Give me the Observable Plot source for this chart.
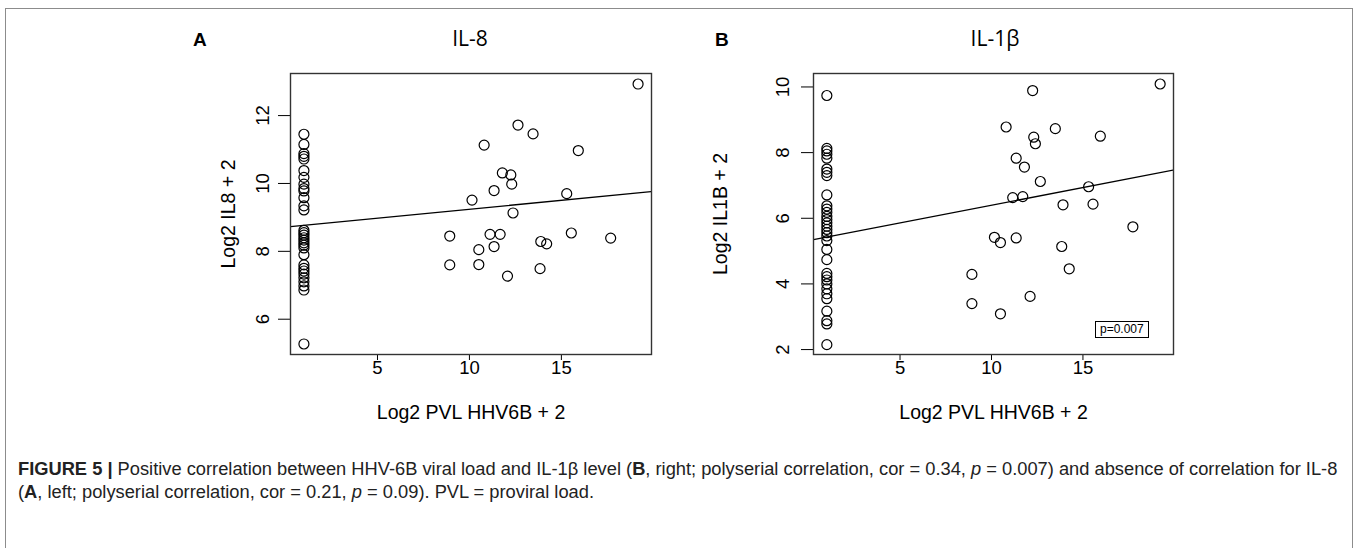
<!DOCTYPE html>
<html>
<head>
<meta charset="utf-8">
<script src="https://cdn.jsdelivr.net/npm/d3@7"></script>
<script src="https://cdn.jsdelivr.net/npm/@observablehq/plot@0.6"></script>
<style>
  body { margin: 0; background: #fff; }
  #fig { position: relative; width: 1358px; height: 548px; overflow: hidden; font-family: "Liberation Sans", Arial, sans-serif; color: #000; }
  #box { position: absolute; left: 5px; top: 8px; width: 1348px; height: 600px; border: 1.5px solid #8c8c8c; box-sizing: border-box; }
  .panel { position: absolute; }
  .letter { position: absolute; font-family: "Liberation Sans", Arial, sans-serif; font-weight: bold; font-size: 19px; }
  .title { position: absolute; font-family: "Open Sans", "Noto Sans", sans-serif; font-size: 21px; transform: translateX(-50%); white-space: nowrap; }
  .pbox { position: absolute; border: 1px solid #000; font-size: 12px; padding: 0 4px; line-height: 15px; background: #fff; }
  #caption { position: absolute; left: 18px; top: 457px; font-size: 18.3px; line-height: 23px; color: #222; white-space: nowrap; }
  #caption b { color: #222; }
</style>
</head>
<body>
<div id="fig">
  <div id="box"></div>
  <div class="letter" style="left:193px; top:29px;">A</div>
  <div class="title" style="left:470px; top:24px;">IL-8</div>
  <div class="letter" style="left:715px; top:29px;">B</div>
  <div class="title" style="left:995px; top:24px;">IL-1β</div>
  <div id="left" class="panel" style="left:180px; top:60px;"></div>
  <div id="right" class="panel" style="left:700px; top:60px;"></div>
  <div class="pbox" style="left:1095px; top:321px;">p=0.007</div>
  <div id="caption"><b>FIGURE 5 |</b> Positive correlation between HHV-6B viral load and IL-1β level (<b>B</b>, right; polyserial correlation, cor = 0.34, <i>p</i> = 0.007) and absence of correlation for IL-8<br>(<b>A</b>, left; polyserial correlation, cor = 0.21, <i>p</i> = 0.09). PVL = proviral load.</div>
</div>
<script>
// ---- data ----
const undetectedX = 1; // log2(0 + 2)
const xTicks = [5, 10, 15];
const il8YTicks = [6, 8, 10, 12];
const il1bYTicks = [2, 4, 6, 8, 10];

// IL-8 panel: samples with no detectable HHV-6B load (x = 1)
const il8Undetected = [11.45, 11.15, 10.88, 10.8, 10.72, 10.38, 10.18, 9.98, 9.85, 9.78, 9.58, 9.34, 9.22,
  8.62, 8.55, 8.48, 8.4, 8.33, 8.25, 8.18, 8.1, 7.9, 7.6, 7.5, 7.42, 7.33, 7.22, 7.1, 6.98, 6.86, 5.27];
// IL-8 panel: samples with detectable load
const il8X = [19.17, 12.64, 13.46, 10.80, 15.92, 11.79, 12.25, 12.30, 11.34, 15.29, 10.14, 12.37, 8.93,
  11.12, 11.67, 15.54, 13.88, 14.20, 17.68, 10.51, 11.34, 8.93, 10.51, 13.84, 12.07];
const il8Y = [12.93, 11.72, 11.46, 11.13, 10.97, 10.31, 10.25, 9.98, 9.79, 9.70, 9.51, 9.13, 8.45,
  8.50, 8.50, 8.54, 8.29, 8.22, 8.39, 8.05, 8.14, 7.60, 7.61, 7.49, 7.27];

// IL-1β panel
const il1bUndetected = [9.74, 8.13, 8.05, 7.95, 7.83, 7.5, 7.4, 7.3, 6.71, 6.38, 6.28, 6.18, 6.06, 5.96,
  5.86, 5.76, 5.66, 5.56, 5.46, 5.32, 5.05, 4.74, 4.32, 4.22, 4.12, 4.0, 3.85, 3.7, 3.55, 3.17, 2.88, 2.78, 2.15];
const il1bX = [19.22, 12.25, 10.80, 13.49, 12.31, 12.40, 15.95, 11.35, 11.80, 12.67, 15.31, 11.16, 11.71,
  13.91, 15.55, 17.73, 10.16, 10.49, 11.35, 13.84, 14.25, 8.93, 8.93, 12.11, 10.49];
const il1bY = [10.09, 9.89, 8.78, 8.73, 8.47, 8.27, 8.50, 7.83, 7.56, 7.12, 6.96, 6.63, 6.66,
  6.41, 6.43, 5.74, 5.42, 5.26, 5.40, 5.14, 4.46, 4.29, 3.40, 3.62, 3.09];

// fitted regression lines (intercept, slope) as drawn in the reference
const il8Fit = [8.716, 0.0525];
const il1bFit = [5.321, 0.1077];

// axis domains (R's default 4% extension)
const il8XDomain = [0.27, 19.9];
const il8YDomain = [4.96, 13.24];
const il1bXDomain = [0.27, 19.95];
const il1bYDomain = [1.85, 10.41];

// ---- build tables ----
function rows(zeroYs, xs, ys) {
  return zeroYs.map(y => ({x: undetectedX, y})).concat(xs.map((x, i) => ({x, y: ys[i]})));
}
function fitRows(fit, domain) {
  return domain.map(x => ({x, y: fit[0] + fit[1] * x}));
}

function panel({data, fit, xDomain, yDomain, yTicks, yLabel, marginLeft, marginRight, yLabelOffset, yTickPadding}) {
  return Plot.plot({
    width: 490,
    height: 370,
    marginLeft,
    marginRight,
    marginTop: 13,
    marginBottom: 76,
    x: {domain: xDomain},
    y: {domain: yDomain},
    style: {fontFamily: "Liberation Sans, Arial, sans-serif", fontSize: "18.5px", color: "#000", background: "transparent", overflow: "visible"},
    marks: [
      Plot.axisX({ticks: xTicks, tickSize: 6, tickPadding: 0, fontSize: 18.5, label: null}),
      Plot.axisX({ticks: [], tickSize: 0, fontSize: 19.5, label: "Log2 PVL HHV6B + 2", labelAnchor: "center", labelOffset: 64, labelArrow: "none"}),
      Plot.axisY({ticks: yTicks, tickSize: 12, tickRotate: -90, tickPadding: yTickPadding, fontSize: 18.5, label: null}),
      Plot.axisY({ticks: [], tickSize: 0, fontSize: 19.5, label: yLabel, labelAnchor: "center", labelOffset: yLabelOffset, labelArrow: "none"}),
      Plot.line(fitRows(fit, xDomain), {x: "x", y: "y", stroke: "#000", strokeWidth: 1.3, clip: true}),
      Plot.dot(data, {x: "x", y: "y", r: 5, stroke: "#000", strokeWidth: 1.2, fill: "none"}),
      Plot.frame({stroke: "#333", strokeWidth: 1.4})
    ]
  });
}

document.getElementById("left").append(panel({
  data: rows(il8Undetected, il8X, il8Y), fit: il8Fit, xDomain: il8XDomain, yDomain: il8YDomain,
  yTicks: il8YTicks, yLabel: "Log2 IL8 + 2", marginLeft: 110, marginRight: 19, yLabelOffset: 69, yTickPadding: 10
}));
document.getElementById("right").append(panel({
  data: rows(il1bUndetected, il1bX, il1bY), fit: il1bFit, xDomain: il1bXDomain, yDomain: il1bYDomain,
  yTicks: il1bYTicks, yLabel: "Log2 IL1B + 2", marginLeft: 113, marginRight: 17, yLabelOffset: 100, yTickPadding: 13
}));
</script>
</body>
</html>
